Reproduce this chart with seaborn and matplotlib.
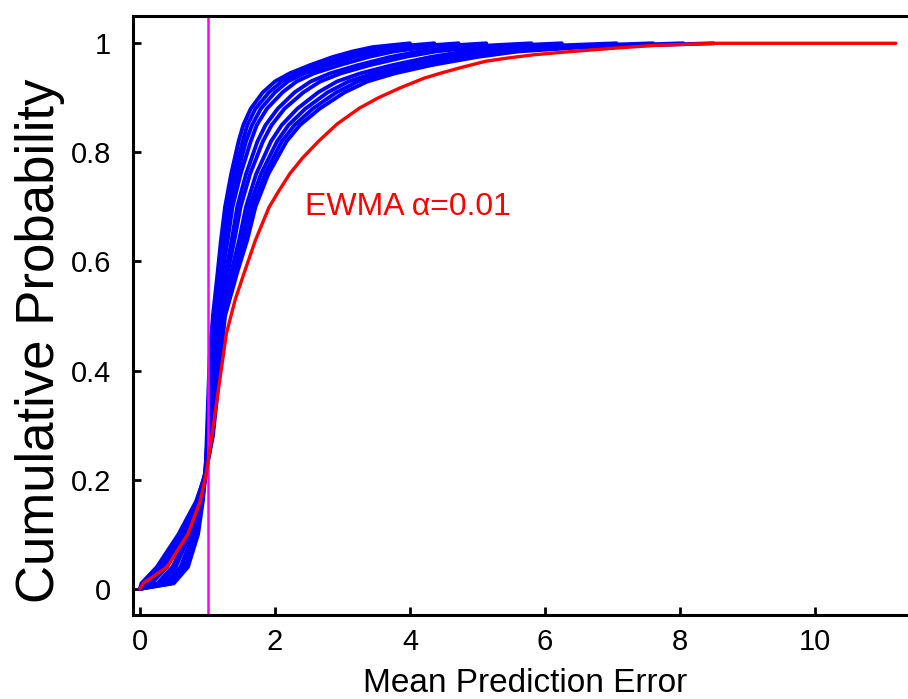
import numpy as np
import pandas as pd
import matplotlib
matplotlib.use("Agg")
import matplotlib.pyplot as plt
import seaborn as sns

# cumulative probability levels at which the blue curves were read
levels = [0, 0.01, 0.04, 0.1, 0.16, 0.21, 0.28, 0.35, 0.42, 0.5, 0.58, 0.64, 0.7,
          0.76, 0.82, 0.85, 0.88, 0.91, 0.93, 0.945, 0.96, 0.975, 0.985, 0.993, 1.0]

# mean prediction error reached by each blue run at those levels
run_0 = [0, 0.50, 0.71, 0.86, 0.93, 0.97, 0.99, 1.01, 1.03, 1.08, 1.15, 1.20, 1.26,
         1.35, 1.46, 1.53, 1.64, 1.82, 2.00, 2.22, 2.52, 2.86, 3.15, 3.45, 4.00]
run_1 = [0, 0.46, 0.67, 0.84, 0.92, 0.97, 1.00, 1.02, 1.04, 1.09, 1.17, 1.23, 1.30,
         1.39, 1.52, 1.59, 1.71, 1.91, 2.10, 2.34, 2.66, 3.03, 3.35, 3.70, 4.36]
run_2 = [0, 0.42, 0.64, 0.81, 0.91, 0.97, 1.00, 1.03, 1.06, 1.11, 1.20, 1.26, 1.33,
         1.44, 1.57, 1.66, 1.79, 2.00, 2.19, 2.44, 2.79, 3.19, 3.54, 3.95, 4.72]
run_3 = [0, 0.38, 0.60, 0.79, 0.90, 0.96, 1.01, 1.04, 1.07, 1.13, 1.22, 1.30, 1.37,
         1.49, 1.64, 1.73, 1.88, 2.11, 2.32, 2.58, 2.96, 3.39, 3.76, 4.24, 5.13]
run_4 = [0, 0.31, 0.53, 0.74, 0.89, 0.97, 1.03, 1.06, 1.09, 1.15, 1.27, 1.36, 1.44,
         1.57, 1.74, 1.86, 2.04, 2.29, 2.53, 2.82, 3.23, 3.71, 4.13, 4.71, 5.80]
run_5 = [0, 0.26, 0.48, 0.72, 0.88, 0.98, 1.04, 1.08, 1.11, 1.17, 1.30, 1.40, 1.49,
         1.63, 1.82, 1.95, 2.14, 2.42, 2.67, 2.98, 3.41, 3.93, 4.38, 5.03, 6.25]
run_6 = [0, 0.17, 0.40, 0.66, 0.86, 0.97, 1.05, 1.10, 1.14, 1.20, 1.35, 1.47, 1.57,
         1.72, 1.94, 2.10, 2.33, 2.64, 2.92, 3.27, 3.74, 4.31, 4.82, 5.59, 7.06]
run_7 = [0, 0.12, 0.34, 0.63, 0.85, 0.96, 1.06, 1.11, 1.16, 1.22, 1.38, 1.51, 1.62,
         1.79, 2.03, 2.20, 2.45, 2.78, 3.09, 3.46, 3.96, 4.57, 5.11, 5.97, 7.60]
run_8 = [0, 0.07, 0.30, 0.60, 0.84, 0.97, 1.07, 1.13, 1.17, 1.24, 1.41, 1.55, 1.67,
         1.85, 2.10, 2.29, 2.56, 2.91, 3.23, 3.62, 4.14, 4.79, 5.36, 6.29, 8.05]
run_9 = [0, 0.02, 0.25, 0.57, 0.83, 0.97, 1.08, 1.14, 1.19, 1.26, 1.44, 1.59, 1.71,
         1.90, 2.17, 2.37, 2.66, 3.03, 3.37, 3.78, 4.32, 5.00, 5.60, 6.60, 8.50]
blue_runs = [run_0, run_1, run_2, run_3, run_4, run_5, run_6, run_7, run_8, run_9]

# EWMA alpha=0.01 curve
ewma_levels = [0, 0.01, 0.04, 0.1, 0.16, 0.21, 0.285, 0.346, 0.407, 0.468, 0.53,
               0.578, 0.639, 0.699, 0.73, 0.761, 0.79, 0.821, 0.852, 0.881, 0.9,
               0.918, 0.936, 0.945, 0.955, 0.967, 0.973, 0.979, 0.985, 0.991,
               0.996, 1.0, 1.0]
ewma_err = [0, 0.05, 0.40, 0.71, 0.89, 0.98, 1.07, 1.14, 1.21, 1.28, 1.41,
            1.54, 1.71, 1.91, 2.06, 2.22, 2.41, 2.65, 2.92, 3.25, 3.53,
            3.85, 4.21, 4.45, 4.74, 5.12, 5.45, 5.84, 6.40, 7.03,
            7.60, 8.57, 11.2]

threshold = 1.0

rows = []
for i, run in enumerate(blue_runs):
    for e, p in zip(run, levels):
        rows.append({"run": i, "err": e, "prob": p})
df_blue = pd.DataFrame(rows)
df_red = pd.DataFrame({"err": ewma_err, "prob": ewma_levels})

sns.set_style("ticks")
plt.rcParams['font.family'] = ['Liberation Sans', 'DejaVu Sans']
plt.rcParams['text.color'] = 'black'
plt.rcParams['axes.labelcolor'] = 'black'

fig = plt.figure(figsize=(9.08, 6.99), dpi=100)
ax = fig.add_axes([133 / 908, 84 / 699, 775 / 908, 599 / 699])

sns.lineplot(data=df_blue, x="err", y="prob", units="run", estimator=None,
             color="#0000ff", lw=2.8, ax=ax, zorder=2)
ax.axvline(threshold, color="#ff00ff", lw=1.8, zorder=2.5)
sns.lineplot(data=df_red, x="err", y="prob", color="#ff0000", lw=2.4, ax=ax, zorder=3)

ax.text(2.45, 0.70, "EWMA \u03b1=0.01", color="#ff0000", fontsize=23,
        va="center", ha="left")

ax.set_xlim(-0.104, 11.38)
ax.set_ylim(-0.048, 1.050)
ax.set_xticks([0, 2, 4, 6, 8, 10])
ax.set_yticks([0, 0.2, 0.4, 0.6, 0.8, 1.0])
ax.set_yticklabels(["0", "0.2", "0.4", "0.6", "0.8", "1"])
ax.tick_params(direction="in", length=6, width=2, labelsize=21,
               colors="black", labelcolor="black")
ax.tick_params(axis="y", pad=16)
ax.tick_params(axis="x", pad=9)

for side in ["left", "bottom", "top"]:
    ax.spines[side].set_linewidth(2.2)
    ax.spines[side].set_color("black")
ax.spines["right"].set_visible(False)

ax.set_xlabel("Mean Prediction Error", fontsize=24, color="black")
ax.set_ylabel("Cumulative Probability", fontsize=38, color="black")
ax.xaxis.set_label_coords(0.506, -0.088)
ax.yaxis.set_label_coords(-0.088, 0.457)

plt.savefig("out.png", dpi=100)
